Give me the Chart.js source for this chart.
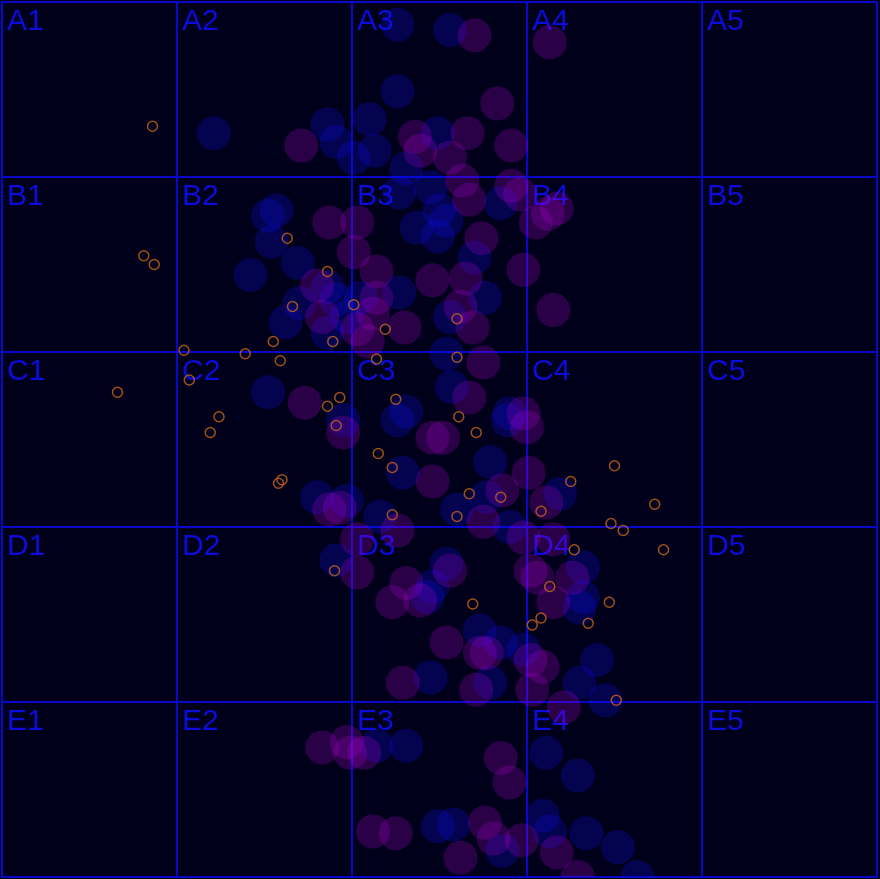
<!DOCTYPE html>
<html><head><meta charset="utf-8">
<script src="https://cdn.jsdelivr.net/npm/chart.js"></script>
<style>html,body{margin:0;padding:0;background:#01001a;overflow:hidden}</style>
</head><body>
<canvas id="c" width="880" height="879"></canvas>
<script>
// grid cell labels
const rowLabels = ['A','B','C','D','E'];
const colLabels = ['1','2','3','4','5'];

// blue bubbles (x, y in cell units, y measured downward)
const blueX = [2.26,2.56,2.26,1.21,1.86,2.10,1.91,2.01,2.13,2.49,2.31,2.45,2.27,2.50,2.85,1.57,1.52,1.54,1.69,1.42,1.86,1.70,1.62,1.91,1.97,2.05,2.27,1.86,2.37,2.54,2.49,2.70,2.76,2.56,2.54,2.57,2.90,1.52,2.31,1.95,2.26,2.89,2.79,2.29,1.80,1.97,2.16,2.77,2.60,2.90,3.19,1.91,2.46,2.54,3.32,3.32,2.43,2.73,2.85,2.98,3.40,2.45,2.79,3.30,3.45,3.30,2.14,2.31,3.11,3.29,2.49,2.58,2.86,3.09,3.13,3.34,3.52,3.63];
const blueY = [0.13,0.16,0.51,0.75,0.70,0.67,0.80,0.89,0.85,0.75,0.95,1.06,1.09,1.19,1.15,1.19,1.22,1.37,1.49,1.56,1.63,1.72,1.83,1.70,1.80,1.69,1.66,1.89,1.29,1.25,1.34,1.46,1.69,1.80,2.01,2.20,2.35,2.23,2.34,2.39,2.39,2.39,2.63,2.69,2.83,2.85,2.94,2.83,2.90,3.00,2.81,3.19,3.34,3.21,3.23,3.40,3.40,3.59,3.66,3.70,3.76,3.86,3.89,3.89,3.99,3.46,4.25,4.25,4.29,4.42,4.71,4.70,4.85,4.65,4.74,4.75,4.83,5.00];

// purple bubbles
const purpleX = [2.70,3.13,2.83,1.71,2.36,2.39,2.66,2.91,2.56,2.63,2.91,2.67,2.96,3.17,3.12,3.05,1.87,2.03,2.01,2.14,1.80,1.83,2.14,2.12,2.30,2.03,2.09,2.46,2.74,2.65,2.98,2.62,2.69,3.15,2.75,2.67,2.98,1.73,1.95,2.46,2.52,2.46,1.93,1.87,2.26,2.03,2.03,2.31,2.23,2.39,3.00,3.01,2.86,2.75,3.11,2.98,3.15,2.56,3.02,3.06,3.26,3.15,2.54,2.73,2.77,3.02,3.09,2.29,2.71,3.03,3.21,1.83,1.97,2.07,1.99,2.85,2.90,2.12,2.25,2.76,2.81,2.97,2.62,3.17,3.29];
const purpleY = [0.19,0.23,0.58,0.82,0.77,0.85,0.75,0.82,0.89,1.02,1.05,1.13,1.10,1.18,1.21,1.26,1.26,1.26,1.43,1.54,1.62,1.80,1.69,1.78,1.86,1.87,1.94,1.59,1.35,1.58,1.53,1.74,1.86,1.76,2.06,2.26,2.35,2.29,2.46,2.49,2.49,2.74,2.89,2.90,3.02,3.07,3.26,3.32,3.43,3.42,2.43,2.69,2.79,2.97,2.86,3.06,3.07,3.25,3.25,3.29,3.29,3.43,3.66,3.72,3.72,3.76,3.80,3.89,3.93,3.93,4.03,4.26,4.23,4.29,4.29,4.32,4.46,4.74,4.75,4.69,4.78,4.79,4.89,4.86,5.00];

// small orange rings
const ringX = [0.86,0.81,0.87,1.63,1.86,1.66,2.01,2.19,1.55,1.89,1.04,1.39,1.59,2.14,2.60,2.60,1.07,0.66,1.93,1.86,2.25,1.24,1.19,1.91,2.61,2.71,2.15,2.23,1.60,1.58,2.23,1.90,3.50,3.25,3.73,2.67,2.85,3.08,2.60,3.48,3.55,3.27,3.78,3.13,2.69,3.47,3.08,3.03,3.35,3.51];
const ringY = [0.71,1.45,1.50,1.35,1.54,1.74,1.73,1.87,1.94,1.94,1.99,2.01,2.05,2.04,1.81,2.03,2.16,2.23,2.26,2.31,2.27,2.37,2.46,2.42,2.37,2.46,2.58,2.66,2.73,2.75,2.93,3.25,2.65,2.74,2.87,2.81,2.83,2.91,2.94,2.98,3.02,3.13,3.13,3.34,3.44,3.43,3.52,3.56,3.55,3.99];

const zip = (xs, ys) => xs.map((x, i) => ({x: x, y: ys[i]}));

const BG = '#01001a';
const GRID = 'rgb(8,8,200)';
const TEXT = 'rgb(12,12,220)';

const bgPlugin = {
  id: 'bg',
  beforeDraw(chart) {
    const ctx = chart.ctx;
    ctx.save();
    ctx.fillStyle = BG;
    ctx.fillRect(0, 0, chart.width, chart.height);
    ctx.restore();
  }
};

const labelPlugin = {
  id: 'cellLabels',
  beforeDatasetsDraw(chart) {
    const ctx = chart.ctx;
    const xs = chart.scales.x, ys = chart.scales.y;
    ctx.save();
    ctx.font = '30px "Liberation Sans", Arial, sans-serif';
    ctx.fillStyle = TEXT;
    ctx.textBaseline = 'top';
    ctx.textAlign = 'left';
    rowLabels.forEach((r, ri) => {
      colLabels.forEach((c, ci) => {
        const px = xs.getPixelForValue(ci) + 5;
        const py = ys.getPixelForValue(ri) + 5;
        ctx.fillText(r + c, px, py);
      });
    });
    ctx.restore();
  }
};

new Chart(document.getElementById('c'), {
  type: 'scatter',
  data: {
    datasets: [
      {
        label: 'rings',
        data: zip(ringX, ringY),
        pointRadius: 5,
        pointHoverRadius: 5,
        pointBackgroundColor: 'rgba(0,0,0,0)',
        pointBorderColor: 'rgba(200,100,30,0.8)',
        pointBorderWidth: 1.5
      },
      {
        label: 'purple',
        data: zip(purpleX, purpleY),
        pointRadius: 17,
        pointHoverRadius: 17,
        pointBackgroundColor: 'rgba(175,0,215,0.24)',
        pointBorderWidth: 0
      },
      {
        label: 'blue',
        data: zip(blueX, blueY),
        pointRadius: 17,
        pointHoverRadius: 17,
        pointBackgroundColor: 'rgba(15,15,255,0.23)',
        pointBorderWidth: 0
      }
    ]
  },
  options: {
    responsive: false,
    animation: false,
    events: [],
    layout: { autoPadding: false, padding: { left: 2, right: 3, top: 2, bottom: 2 } },
    plugins: { legend: { display: false }, tooltip: { enabled: false } },
    scales: {
      x: {
        type: 'linear', min: 0, max: 5,
        ticks: { display: false, stepSize: 1 },
        grid: { color: GRID, lineWidth: 2, drawTicks: false },
        border: { display: true, color: GRID, width: 2 }
      },
      y: {
        type: 'linear', min: 0, max: 5, reverse: true,
        ticks: { display: false, stepSize: 1 },
        grid: { color: GRID, lineWidth: 2, drawTicks: false },
        border: { display: true, color: GRID, width: 2 }
      }
    }
  },
  plugins: [bgPlugin, labelPlugin]
});
</script>
</body></html>
